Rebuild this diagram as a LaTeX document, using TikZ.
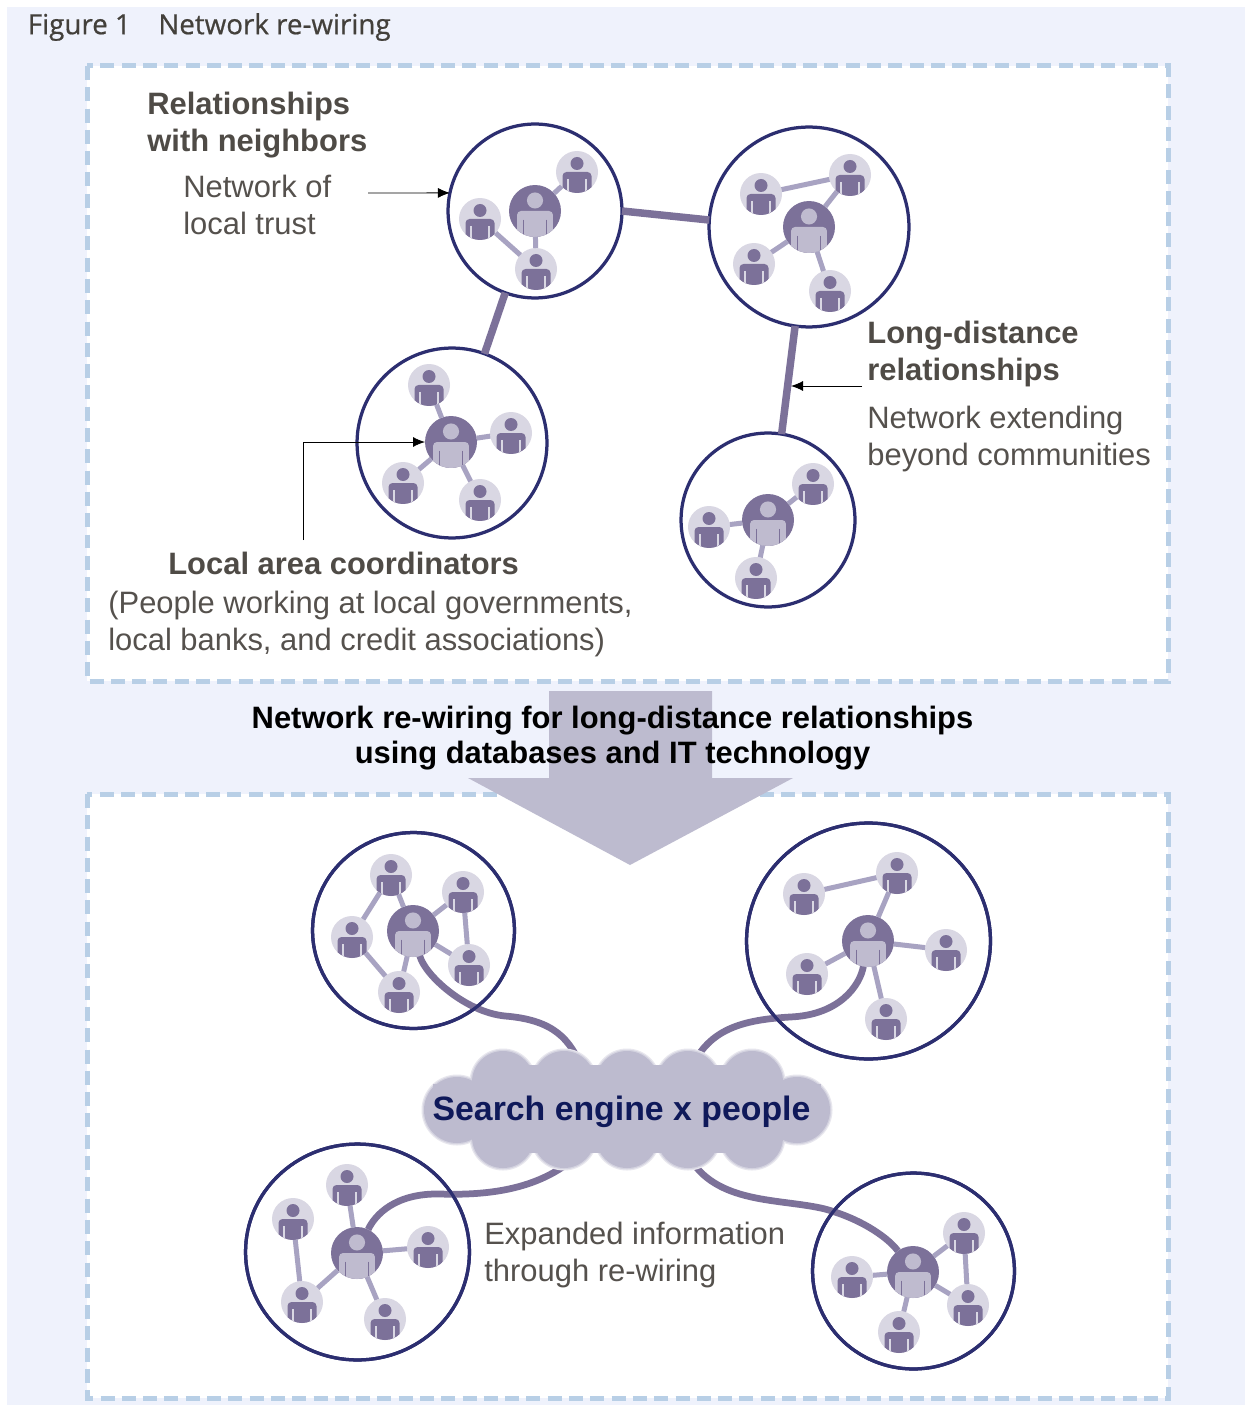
\documentclass[tikz,border=0pt]{standalone}
\usepackage{fontspec}
\usetikzlibrary{arrows.meta,shapes.geometric}
\setmainfont{Liberation Sans}
\newfontfamily\titlefont[FakeBold=0.6]{Open Sans}
\definecolor{pagecolor}{RGB}{239,242,252}
\definecolor{dashcolor}{RGB}{184,207,230}
\definecolor{ringcolor}{RGB}{44,46,112}
\definecolor{hubcolor}{RGB}{124,113,153}
\definecolor{lightcolor}{RGB}{191,187,207}
\definecolor{membercolor}{RGB}{217,215,227}
\definecolor{linkcolor}{RGB}{168,163,194}
\definecolor{bandcolor}{RGB}{189,187,207}
\definecolor{headcolor}{RGB}{79,75,70}
\definecolor{bodycolor}{RGB}{85,81,77}
\definecolor{searchcolor}{RGB}{15,25,90}
\newcommand{\personicon}[3]{
\begin{scope}[shift={(path picture bounding box.center)},x=#1,y=-#1]
\fill [#2] (0,-8.5) circle [radius=6.5];
\fill [#2,rounded corners=0.08cm] (-14.5,40) -- (-14.5,0) -- (14.5,0) -- (14.5,40) -- cycle;
\draw [#3,line width=0.025cm] (-9,7) -- (-9,30);
\draw [#3,line width=0.025cm] (9,7) -- (9,30);
\end{scope}}
\newcommand{\cloudshape}{(457,1110) circle [radius=33] (797,1110) circle [radius=33]
(503,1082) circle [radius=31] (564,1082) circle [radius=31] (627,1082) circle [radius=31] (688,1082) circle [radius=31] (752,1082) circle [radius=31]
(503,1137) circle [radius=31] (564,1137) circle [radius=31] (627,1137) circle [radius=31] (688,1137) circle [radius=31] (752,1137) circle [radius=31]}
\tikzset{
groupring/.style 2 args={ellipse,draw=ringcolor,line width=0.065cm,inner sep=0,outer sep=0,minimum width=#1*0.04cm,minimum height=#2*0.04cm},
hubnode/.style={circle,fill=hubcolor,inner sep=0,outer sep=0,minimum size=1.04cm,path picture={\personicon{0.0248cm}{lightcolor}{hubcolor}}},
membernode/.style={circle,fill=membercolor,inner sep=0,outer sep=0,minimum size=0.84cm,path picture={\personicon{0.02cm}{hubcolor}{membercolor}}},
framebox/.style={draw=dashcolor,fill=white,line width=0.1cm,dash pattern=on 0.28cm off 0.146cm},
grouplink/.style={draw=hubcolor,line width=0.15cm},
memberlink/.style={draw=linkcolor,line width=0.1cm},
rewire/.style={draw=hubcolor,line width=0.135cm},
notearrow/.style={-{Latex[length=0.24cm,width=0.2cm]},line width=0.5pt,black},
boldnote/.style={font=\fontsize{17.6}{21}\selectfont\bfseries,text=headcolor,align=left,inner sep=0,anchor=west},
plainnote/.style={font=\fontsize{17.6}{21}\selectfont,text=bodycolor,align=left,inner sep=0,anchor=west}
}
\begin{document}
\begin{tikzpicture}[x=0.02cm,y=-0.02cm]
\useasboundingbox (0,0) rectangle (1245,1405);
\fill [pagecolor] (7,7) rectangle (1245,1405);
\draw [framebox] (87,66) rectangle (1168,681);
\draw [framebox] (87,794) rectangle (1168,1398);
\fill [bandcolor] (549,691) -- (712,691) -- (712,778) -- (793,778) -- (630,865) -- (468,778) -- (549,778) -- cycle;
\node (figtitle) [anchor=west,inner sep=0,text=headcolor!85!black,font=\fontsize{15.8}{20}\selectfont\titlefont] at (27.5,27) {Figure 1\hspace{0.55cm}Network re-wiring};
\node (ringa) [groupring={87}{87},fill=white] at (535,211) {};
\node (ringb) [groupring={100}{100},fill=white] at (809,227) {};
\node (ringc) [groupring={95}{95},fill=white] at (452,443) {};
\node (ringd) [groupring={87}{87},fill=white] at (768,520) {};
\draw [grouplink] (ringa.0) -- (ringb.176);
\draw [grouplink] (ringa.250) -- (ringc.70);
\draw [grouplink] (ringb.262) -- (ringd.81);
\node (huba) [hubnode] at (535,211) {};
\node (a1) [membernode] at (577,172) {};
\node (a2) [membernode] at (480,219) {};
\node (a3) [membernode] at (536,269) {};
\node (hubb) [hubnode] at (809,227) {};
\node (b1) [membernode] at (761,194) {};
\node (b2) [membernode] at (850,175) {};
\node (b3) [membernode] at (754,264) {};
\node (b4) [membernode] at (830,291) {};
\node (hubc) [hubnode] at (451,442) {};
\node (c1) [membernode] at (429,385) {};
\node (c2) [membernode] at (511,433) {};
\node (c3) [membernode] at (403,483) {};
\node (c4) [membernode] at (480,500) {};
\node (hubd) [hubnode] at (768,520) {};
\node (d1) [membernode] at (813,484) {};
\node (d2) [membernode] at (709,527) {};
\node (d3) [membernode] at (756,578) {};
\draw [memberlink] (huba) -- (a1);
\draw [memberlink] (huba) -- (a3);
\draw [memberlink] (a2) -- (a3);
\draw [memberlink] (b1) -- (b2);
\draw [memberlink] (hubb) -- (b2);
\draw [memberlink] (hubb) -- (b3);
\draw [memberlink] (hubb) -- (b4);
\draw [memberlink] (hubc) -- (c1);
\draw [memberlink] (hubc) -- (c2);
\draw [memberlink] (hubc) -- (c3);
\draw [memberlink] (hubc) -- (c4);
\draw [memberlink] (hubd) -- (d1);
\draw [memberlink] (hubd) -- (d2);
\draw [memberlink] (hubd) -- (d3);
\node (ringe) [groupring={101}{98},fill=white] at (413.5,930.5) {};
\node (ringf) [groupring={122}{118},fill=white] at (868.5,941) {};
\node (ringg) [groupring={112}{108},fill=white] at (357.5,1252) {};
\node (ringh) [groupring={101}{98},fill=white] at (913.5,1271) {};
\node (hube) [hubnode] at (413,931) {};
\node (e1) [membernode] at (391,875) {};
\node (e2) [membernode] at (463,892) {};
\node (e3) [membernode] at (352,937) {};
\node (e4) [membernode] at (469,965) {};
\node (e5) [membernode] at (399,992) {};
\node (hubf) [hubnode] at (868,941) {};
\node (f1) [membernode] at (804,894) {};
\node (f2) [membernode] at (897,873) {};
\node (f3) [membernode] at (946,950) {};
\node (f4) [membernode] at (807,974) {};
\node (f5) [membernode] at (886,1019) {};
\node (hubg) [hubnode] at (357,1253) {};
\node (g1) [membernode] at (347,1185) {};
\node (g2) [membernode] at (293,1219) {};
\node (g3) [membernode] at (428,1247) {};
\node (g4) [membernode] at (302,1302) {};
\node (g5) [membernode] at (385,1319) {};
\node (hubh) [hubnode] at (913,1272) {};
\node (h1) [membernode] at (964,1233) {};
\node (h2) [membernode] at (852,1277) {};
\node (h3) [membernode] at (968,1305) {};
\node (h4) [membernode] at (899,1332) {};
\draw [memberlink] (hube) -- (e1);
\draw [memberlink] (hube) -- (e2);
\draw [memberlink] (hube) -- (e4);
\draw [memberlink] (hube) -- (e5);
\draw [memberlink] (e1) -- (e3);
\draw [memberlink] (e3) -- (e5);
\draw [memberlink] (e2) -- (e4);
\draw [memberlink] (f1) -- (f2);
\draw [memberlink] (hubf) -- (f2);
\draw [memberlink] (hubf) -- (f3);
\draw [memberlink] (hubf) -- (f4);
\draw [memberlink] (hubf) -- (f5);
\draw [memberlink] (hubg) -- (g1);
\draw [memberlink] (hubg) -- (g3);
\draw [memberlink] (hubg) -- (g4);
\draw [memberlink] (hubg) -- (g5);
\draw [memberlink] (g2) -- (g4);
\draw [memberlink] (hubh) -- (h1);
\draw [memberlink] (hubh) -- (h2);
\draw [memberlink] (hubh) -- (h3);
\draw [memberlink] (hubh) -- (h4);
\draw [memberlink] (h1) -- (h3);
\draw [rewire] (hube) .. controls (425,975) and (465,1012) .. (505,1016) .. controls (555,1020) and (570,1040) .. (582,1068);
\draw [rewire] (hubf) .. controls (860,985) and (840,1015) .. (790,1017) .. controls (740,1020) and (710,1030) .. (692,1066);
\draw [rewire] (hubg) .. controls (375,1215) and (395,1193) .. (440,1194) .. controls (500,1196) and (545,1185) .. (578,1155);
\draw [rewire] (hubh) .. controls (890,1240) and (865,1220) .. (825,1209) .. controls (780,1198) and (715,1205) .. (688,1155);
\node [groupring={101}{98}] at (ringe) {};
\node [groupring={122}{118}] at (ringf) {};
\node [groupring={112}{108}] at (ringg) {};
\node [groupring={101}{98}] at (ringh) {};
\draw [bandcolor!35,line width=0.1cm] \cloudshape;
\draw [bandcolor!65,line width=0.05cm] \cloudshape;
\fill [bandcolor] \cloudshape;
\fill [bandcolor] (470,1085) rectangle (785,1135);
\fill [bandcolor] (503,1065) rectangle (752,1153);
\node (search) [fill=bandcolor,inner sep=0,minimum width=7.76cm,minimum height=0.96cm,text height=0.56cm,text depth=0.08cm,text=searchcolor,font=\fontsize{19.25}{24}\selectfont\bfseries] at (627,1108) {\hspace{-0.22cm}Search engine x people};
\node (bandtext) [align=center,inner sep=0,text=black,font=\fontsize{17.6}{20}\selectfont\bfseries] at (612.5,738) {Network re-wiring for long-distance relationships\\using databases and IT technology};
\node (neighbors) [boldnote] at (147,125) {Relationships\\with neighbors};
\node (trust) [plainnote] at (183,205) {Network of\\local trust};
\node (longdist) [boldnote] at (867,354) {Long-distance\\relationships};
\node (beyond) [plainnote] at (867,439) {Network extending\\beyond communities};
\node (coord) [boldnote] at (168,563) {Local area coordinators};
\node (people) [plainnote] at (108,624) {(People working at local governments,\\local banks, and credit associations)};
\node (expanded) [plainnote] at (484,1255) {Expanded information\\through re-wiring};
\coordinate (trustarrow) at (368,193);
\coordinate (longarrow) at (862,386);
\coordinate (linkarrow) at (791,386);
\coordinate (coordarrow) at (303,540);
\draw [notearrow] (trustarrow) -- (ringa.168);
\draw [notearrow] (longarrow) -- (linkarrow);
\draw [notearrow] (coordarrow) |- (hubc.west);
\end{tikzpicture}
\end{document}
